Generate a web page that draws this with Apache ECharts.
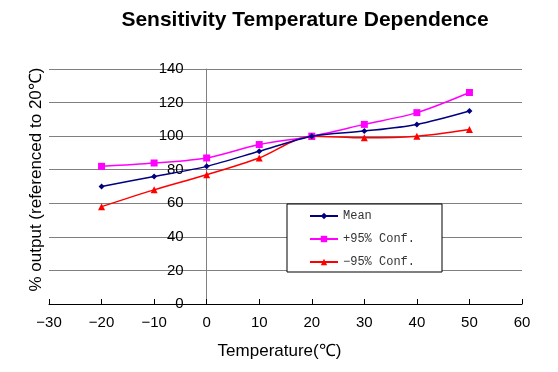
<!DOCTYPE html>
<html>
<head>
<meta charset="utf-8">
<script src="https://cdn.jsdelivr.net/npm/echarts@6/dist/echarts.min.js"></script>
<style>
html,body{margin:0;padding:0;background:#fff;}
#chart{width:558px;height:372px;}
</style>
</head>
<body>
<div id="chart"></div>
<script>
var temperatures = [-20, -10, 0, 10, 20, 30, 40, 50];
var meanValues = [70, 76, 82, 91, 100, 103, 107, 115];
var upperValues = [82, 84, 87, 95, 100, 107, 114, 126];
var lowerValues = [58, 68, 77, 87, 100, 99, 100, 104];
var seriesNames = ['Mean', '+95% Conf.', '\u221295% Conf.'];
var titleText = 'Sensitivity Temperature Dependence';
var xAxisTitle = 'Temperature(\u2103)';
var yAxisTitle = '% output (referenced to 20\u2103)';

function pairs(vals) {
  return temperatures.map(function (t, i) { return [t, vals[i]]; });
}

var chart = echarts.init(document.getElementById('chart'), null, {renderer: 'canvas'});
var sans = '"Liberation Sans", Arial, sans-serif';
var gridLeft = 49, gridRight = 36, xMin = -30, xMax = 60;
var zeroOffset = (0 - xMin) / (xMax - xMin) * (558 - gridLeft - gridRight);

chart.setOption({
  backgroundColor: '#ffffff',
  animation: false,
  title: {
    text: titleText,
    left: 300,
    top: 5,
    textAlign: 'center',
    textStyle: {fontFamily: sans, fontWeight: 'bold', fontSize: 21, color: '#000'}
  },
  legend: {
    orient: 'vertical',
    left: 287,
    top: 204,
    padding: [6, 27, 4, 22],
    itemWidth: 28,
    itemHeight: 8,
    itemGap: 11,
    backgroundColor: '#ffffff',
    borderColor: '#000000',
    borderWidth: 1,
    borderRadius: 0,
    textStyle: {fontFamily: '"Liberation Mono", "DejaVu Sans Mono", monospace', fontSize: 12, color: '#333'},
    data: seriesNames
  },
  grid: {left: gridLeft, right: gridRight, top: 69, bottom: 68, containLabel: false, outerBoundsMode: 'none'},
  xAxis: {
    type: 'value',
    min: xMin,
    max: xMax,
    interval: 10,
    name: xAxisTitle,
    nameLocation: 'middle',
    nameGap: 39,
    nameTextStyle: {fontFamily: sans, fontSize: 17, color: '#000', padding: [0, 12, 0, 0]},
    axisLine: {show: true, onZero: false, lineStyle: {color: '#000', width: 1}},
    axisTick: {show: true, inside: true, length: 5, lineStyle: {color: '#000'}},
    axisLabel: {
      fontFamily: sans, fontSize: 15, color: '#000', margin: 11,
      formatter: function (v) { return v < 0 ? '\u2212' + Math.abs(v) : String(v); }
    },
    splitLine: {show: false}
  },
  yAxis: {
    type: 'value',
    min: 0,
    max: 140,
    interval: 20,
    offset: -zeroOffset,
    name: yAxisTitle,
    nameLocation: 'middle',
    nameGap: 162,
    nameTextStyle: {fontFamily: sans, fontSize: 17, color: '#000', padding: [0, 0, 0, 14]},
    axisLine: {show: true, onZero: false, lineStyle: {color: '#808080', width: 1}},
    axisTick: {show: false},
    axisLabel: {fontFamily: sans, fontSize: 15, color: '#000', margin: 23},
    splitLine: {show: true, lineStyle: {color: '#808080', width: 1}}
  },
  series: [
    {
      name: seriesNames[0], type: 'line', smooth: 0.3,
      data: pairs(meanValues),
      symbol: 'diamond', symbolSize: 6,
      lineStyle: {color: '#000080', width: 1.5},
      itemStyle: {color: '#000080'},
      z: 4
    },
    {
      name: seriesNames[1], type: 'line', smooth: 0.3,
      data: pairs(upperValues),
      symbol: 'rect', symbolSize: 7,
      lineStyle: {color: '#ff00ff', width: 1.5},
      itemStyle: {color: '#ff00ff'},
      z: 3
    },
    {
      name: seriesNames[2], type: 'line', smooth: 0.3,
      data: pairs(lowerValues),
      symbol: 'triangle', symbolSize: 7,
      lineStyle: {color: '#ff0000', width: 1.5},
      itemStyle: {color: '#ff0000'},
      z: 2
    }
  ]
});
</script>
</body>
</html>
